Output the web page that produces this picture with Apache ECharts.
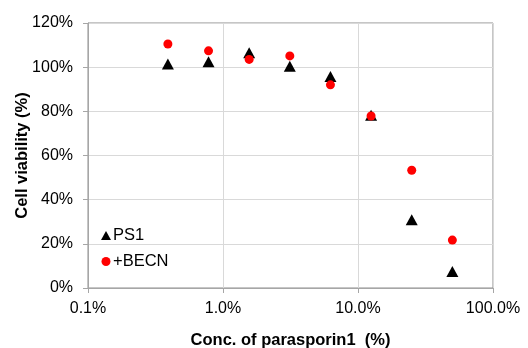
<!DOCTYPE html>
<html>
<head>
<meta charset="utf-8">
<script src="https://cdn.jsdelivr.net/npm/echarts@6/dist/echarts.min.js"></script>
<style>
  html, body { margin: 0; padding: 0; background: #fff; }
  #chart { width: 528px; height: 348px; }
</style>
</head>
<body>
<div id="chart"></div>
<script>
// concentrations of parasporin1 (%), twofold dilutions
const concentrations = [0.390625, 0.78125, 1.5625, 3.125, 6.25, 12.5, 25, 50]
const ps1Viability = [101.4, 102.4, 106.5, 100.4, 95.8, 78.2, 30.9, 7.5]
const becnViability = [110.5, 107.4, 103.5, 105.1, 92.0, 77.9, 53.3, 21.7]
const yTicks = [0, 20, 40, 60, 80, 100, 120]

const font = 'Liberation Sans, Arial, sans-serif'

const chart = echarts.init(document.getElementById('chart'))
chart.setOption({
  animation: false,
  textStyle: { fontFamily: font },
  grid: {
    left: 88,
    right: 35,
    top: 23,
    bottom: 60,
    containLabel: false,
    outerBoundsMode: 'none',
    show: true,
    borderColor: '#8c8c8c',
    borderWidth: 1,
  },
  legend: {
    orient: 'vertical',
    left: 96,
    top: 222,
    itemWidth: 10,
    itemHeight: 9,
    itemGap: 9,
    textStyle: { fontFamily: font, fontSize: 16.5, color: '#000', padding: [0, 0, 0, -3] },
    data: [
      { name: 'PS1', icon: 'triangle', itemStyle: { color: '#000' } },
      { name: '+BECN', icon: 'circle', itemStyle: { color: '#ff0000' } },
    ],
  },
  xAxis: {
    type: 'log',
    logBase: 10,
    min: 0.1,
    max: 100,
    name: 'Conc. of parasporin1  (%)',
    nameLocation: 'middle',
    nameGap: 44,
    nameMoveOverlap: false,
    nameTextStyle: { fontFamily: font, fontSize: 16.5, fontWeight: 'bold', color: '#000' },
    axisLine: { lineStyle: { color: '#a6a6a6' } },
    axisTick: { show: true, length: 5, lineStyle: { color: '#a6a6a6' } },
    splitLine: { show: true, lineStyle: { color: '#d9d9d9' } },
    axisLabel: {
      fontSize: 16,
      color: '#000',
      margin: 13,
      formatter: v => Number(v).toFixed(1) + '%',
    },
  },
  yAxis: {
    type: 'value',
    min: yTicks[0],
    max: yTicks[yTicks.length - 1],
    interval: 20,
    name: 'Cell viability (%)',
    nameLocation: 'middle',
    nameGap: 57,
    nameMoveOverlap: false,
    nameTextStyle: { fontFamily: font, fontSize: 16.5, fontWeight: 'bold', color: '#000' },
    axisLine: { show: true, lineStyle: { color: '#a6a6a6' } },
    axisTick: { show: true, length: 5, lineStyle: { color: '#a6a6a6' } },
    splitLine: { show: true, lineStyle: { color: '#d9d9d9' } },
    axisLabel: {
      fontSize: 16,
      color: '#000',
      margin: 15,
      formatter: '{value}%',
    },
  },
  series: [
    {
      name: 'PS1',
      type: 'scatter',
      symbol: 'triangle',
      symbolSize: [12, 11],
      itemStyle: { color: '#000', opacity: 1 },
      data: concentrations.map((c, i) => [c, ps1Viability[i]]),
      z: 2,
    },
    {
      name: '+BECN',
      type: 'scatter',
      symbol: 'circle',
      symbolSize: 9,
      itemStyle: { color: '#ff0000', opacity: 1 },
      data: concentrations.map((c, i) => [c, becnViability[i]]),
      z: 3,
    },
  ],
})
</script>
</body>
</html>
